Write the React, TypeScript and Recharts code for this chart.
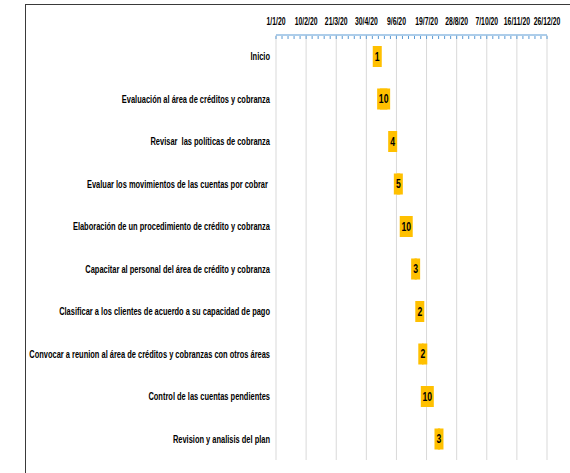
import React from 'react';
import { BarChart, Bar, XAxis, YAxis, ReferenceLine, LabelList } from 'recharts';

const tasks = [
  'Inicio',
  'Evaluación al área de créditos y cobranza',
  'Revisar  las políticas de cobranza',
  'Evaluar los movimientos de las cuentas por cobrar ',
  'Elaboración de un procedimiento de crédito y cobranza',
  'Capacitar al personal del área de crédito y cobranza',
  'Clasificar a los clientes de acuerdo a su capacidad de pago',
  'Convocar a reunion al área de créditos y cobranzas con otros áreas',
  'Control de las cuentas pendientes',
  'Revision y analisis del plan',
];

const startDates = [
  '2020-05-14', '2020-05-18', '2020-06-02', '2020-06-09', '2020-06-17',
  '2020-07-03', '2020-07-09', '2020-07-13', '2020-07-15', '2020-08-03',
];

const durations = [1, 10, 4, 5, 10, 3, 2, 2, 10, 3];

const axisStart = '2020-01-01';
const axisEnd = '2020-12-26';
const majorStep = 40; // days between labelled ticks
const minorStep = 8;

const DAY = 86400000;
const toDay = (s: string) => Math.round((Date.parse(s) - Date.parse(axisStart)) / DAY);
const fmt = (d: number) => {
  const dt = new Date(Date.parse(axisStart) + d * DAY);
  return `${dt.getUTCDate()}/${dt.getUTCMonth() + 1}/${String(dt.getUTCFullYear()).slice(2)}`;
};

const endDay = toDay(axisEnd);
const minorTicks: number[] = [];
for (let d = 0; d <= endDay; d += minorStep) minorTicks.push(d);
const majorTicks = minorTicks.filter(d => d % majorStep === 0);

const data = tasks.map((task, i) => ({
  task,
  start: toDay(startDates[i]),
  dur: durations[i],
}));

// no narrow font installed, so squeeze Liberation Sans horizontally
const FONT = "'Liberation Sans', Arial, sans-serif";

const TopTick = ({ x, y, payload }: any) => {
  const isMajor = payload.value % majorStep === 0;
  return (
    <g>
      <line x1={x} x2={x} y1={y + 1} y2={y + 4} stroke="#5B9BD5" strokeWidth={1} />
      {isMajor && (
        <g transform={`translate(${x},${y - 10}) scale(0.65,1)`}>
          <text x={0} y={0} textAnchor="middle" fontFamily={FONT} fontWeight="bold" fontSize={10.5} fill="#000">
            {fmt(payload.value)}
          </text>
        </g>
      )}
    </g>
  );
};

const TaskTick = ({ x, y, payload }: any) => (
  <g transform={`translate(${x},${y}) scale(0.68,1)`}>
    <text x={0} y={0} dy={4} textAnchor="end" fontFamily={FONT} fontWeight="bold" fontSize={11} fill="#000" style={{ whiteSpace: 'pre' }}>
      {payload.value}
    </text>
  </g>
);

const DurLabel = ({ x, y, width, height, value }: any) => {
  const cx = x + width / 2;
  const cy = y + height / 2;
  const w = String(value).length > 1 ? 13 : 9;
  return (
    <g>
      <rect x={cx - w / 2} y={cy - 10.5} width={w} height={21} fill="#FFC000" />
      <g transform={`translate(${cx},${cy}) scale(0.72,1)`}>
        <text x={0} y={0} dy={4.2} textAnchor="middle" fontFamily={FONT} fontWeight="bold" fontSize={12} fill="#000">
          {value}
        </text>
      </g>
    </g>
  );
};

export default function App() {
  return (
    <div style={{ position: 'fixed', left: 0, top: 0, width: 570, height: 473, background: '#fff' }}>
      <div style={{ position: 'absolute', left: 25, top: 4, right: 0, bottom: 0, borderLeft: '1.5px solid #3a3a3a', borderTop: '1.5px solid #3a3a3a' }} />
      <div style={{ position: 'absolute', left: 0, top: 0 }}>
        <BarChart
          width={570}
          height={473}
          data={data}
          layout="vertical"
          barSize={21}
          margin={{ top: 5, right: 23, left: 0, bottom: 13 }}
        >
          <XAxis
            type="number"
            orientation="top"
            domain={[0, endDay]}
            ticks={minorTicks}
            interval={0}
            tick={<TopTick />}
            tickSize={0}
            tickMargin={0}
            tickLine={false}
            axisLine={{ stroke: '#5B9BD5', strokeWidth: 1 }}
            height={30}
            allowDataOverflow
          />
          <YAxis
            type="category"
            dataKey="task"
            width={276}
            tick={<TaskTick />}
            tickSize={0}
            tickMargin={6}
            tickLine={false}
            axisLine={false}
            interval={0}
          />
          {majorTicks.map(t => (
            <ReferenceLine key={t} x={t} stroke="#D9D9D9" strokeWidth={1} />
          ))}
          <Bar dataKey="start" stackId="g" fill="transparent" isAnimationActive={false} />
          <Bar dataKey="dur" stackId="g" fill="#FFC000" isAnimationActive={false}>
            <LabelList dataKey="dur" content={<DurLabel />} />
          </Bar>
        </BarChart>
      </div>
    </div>
  );
}
